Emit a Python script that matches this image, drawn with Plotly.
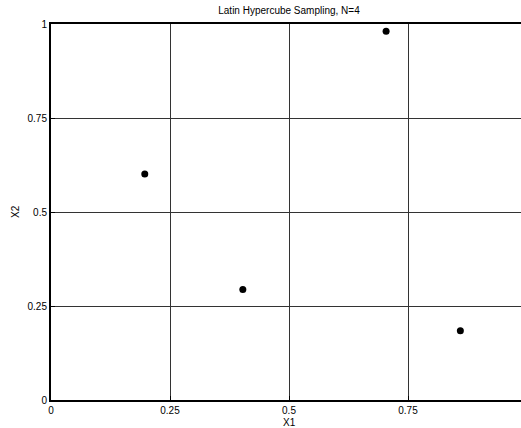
import plotly.graph_objects as go

# Data
x1_values = [0.197, 0.403, 0.704, 0.860]
x2_values = [0.601, 0.294, 0.981, 0.184]
x_tick_vals = [0, 0.25, 0.5, 0.75, 1]
x_tick_text = ["0", "0.25", "0.5", "0.75", "1"]
y_tick_vals = [0, 0.25, 0.5, 0.75, 1]
y_tick_text = ["0", "0.25", "0.5", "0.75", "1"]
title_text = "Latin Hypercube Sampling, N=4"

# Figure is slightly wider than the window; the right part is clipped like the reference
W, H = 527, 428
L, T, B, R = 51, 24, 28, 0
font = "Liberation Sans, Arial, sans-serif"

fig = go.Figure()
fig.add_trace(go.Scatter(
    x=x1_values, y=x2_values, mode="markers",
    marker=dict(color="black", size=7, line=dict(width=0)),
    showlegend=False, hoverinfo="skip",
))

grid = dict(showgrid=True, gridcolor="#333333", gridwidth=1)

fig.update_layout(
    width=W, height=H,
    margin=dict(l=L, r=R, t=T, b=B, pad=0),
    paper_bgcolor="white", plot_bgcolor="white",
    font=dict(family=font, size=10, color="black"),
    title=dict(text=title_text, x=0.5, xref="paper", xanchor="center",
               y=1 - 10 / H, yref="container", yanchor="middle",
               font=dict(size=10, family=font, color="black")),
    xaxis=dict(range=[0, 1], tickvals=x_tick_vals, ticktext=x_tick_text,
               showline=True, linecolor="black", linewidth=2, mirror=True,
               ticks="inside", ticklen=4, tickcolor="black", zeroline=False,
               tickfont=dict(size=10), **grid),
    yaxis=dict(range=[0, 1], tickvals=y_tick_vals, ticktext=y_tick_text,
               showline=True, linecolor="black", linewidth=2, mirror=False,
               ticks="inside", ticklen=4, tickcolor="black", zeroline=False,
               tickfont=dict(size=10), **grid),
    annotations=[
        dict(text="X1", xref="paper", yref="paper",
             x=(289 - L) / (W - L), y=-(422 - (H - B)) / (H - T - B),
             showarrow=False, xanchor="center", yanchor="middle",
             font=dict(size=10, family=font)),
        dict(text="X2", xref="paper", yref="paper",
             x=-(L - 15) / (W - L), y=(H - B - 212) / (H - T - B),
             showarrow=False, xanchor="center", yanchor="middle", textangle=-90,
             font=dict(size=10, family=font)),
    ],
)

fig.write_html("out.html", config={"displayModeBar": False, "staticPlot": True},
               post_script=("document.documentElement.style.overflow='hidden';"
                            "document.body.style.margin='0';document.body.style.overflow='hidden';"))
